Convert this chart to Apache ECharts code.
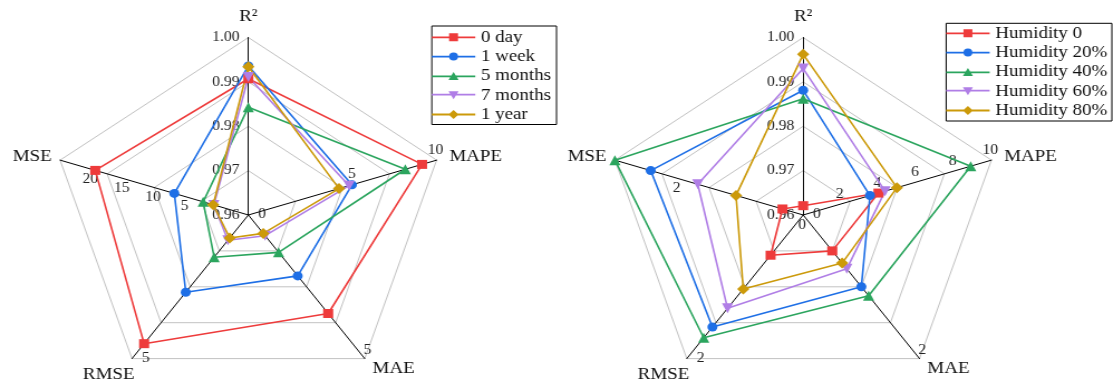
<!DOCTYPE html>
<html><head><meta charset="utf-8">
<script src="https://cdn.jsdelivr.net/npm/echarts@6/dist/echarts.min.js"></script>
<style>
html,body{margin:0;padding:0;background:#fff;overflow:hidden;width:1113px;height:385px;}
#wrap{width:1113px;height:385px;overflow:hidden;position:relative;}
#chart{width:998px;height:385px;transform:scaleX(1.1152);transform-origin:0 0;}
</style></head><body><div id="wrap"><div id="chart"></div></div>
<script>
// Indicators, counter-clockwise from the top
const indicatorNames = ['R²', 'MSE', 'RMSE', 'MAE', 'MAPE'];

// Left radar: aging time
const agingSeries = ['0 day', '1 week', '5 months', '7 months', '1 year'];
const agingR2   = [0.9907, 0.9936, 0.9843, 0.9911, 0.9934];
const agingMSE  = [19.4, 6.8, 2.2, 0.5, 0.6];
const agingRMSE = [4.48, 2.69, 1.47, 0.88, 0.80];
const agingMAE  = [3.43, 2.12, 1.30, 0.72, 0.64];
const agingMAPE = [9.13, 4.94, 8.13, 4.77, 4.17];
const agingMin  = [0.96, -5, 0, 0, -1.25];
const agingMax  = [1.00, 25, 5, 5, 10];
const agingTickLabels = [[0.96, 0.97, 0.98, 0.99, 1.00], [5, 10, 15, 20], [0, 5], [5], [5, 10]];

// Right radar: humidity
const humSeries = ['Humidity 0', 'Humidity 20%', 'Humidity 40%', 'Humidity 60%', 'Humidity 80%'];
const humR2   = [0.9621, 0.9881, 0.9862, 0.9930, 0.9962];
const humMSE  = [0.33, 2.43, 3.0, 1.68, 1.07];
const humRMSE = [0.56, 1.56, 1.71, 1.30, 1.03];
const humMAE  = [0.50, 1.00, 1.125, 0.75, 0.67];
const humMAPE = [4.0, 3.55, 8.9, 4.35, 4.98];
const humMin  = [0.96, 0, 0, 0, 0];
const humMax  = [1.00, 3, 2, 2, 10];
const humTickLabels = [[0.96, 0.97, 0.98, 0.99, 1.00], [0, 2], [0, 2], [2], [2, 4, 6, 8, 10]];

const colors = ['#EE3B3B', '#1E6FE6', '#2BA55E', '#B07EE6', '#CC9A0A'];
const symbols = ['rect', 'circle', 'triangle', 'path://M0,0L10,0L5,9Z', 'diamond'];
const symbolSizes = [9, 9, 10, 10, 11];
const legendLine = 'M0,3.6H39V5.4H0Z ';
const legendIcons = [
  'path://' + legendLine + 'M15.5,0.5H23.5V8.5H15.5Z',
  'path://' + legendLine + 'M19.5,0.5A4,4 0 1 1 19.5,8.5A4,4 0 1 1 19.5,0.5Z',
  'path://' + legendLine + 'M19.5,0L24,8L15,8Z',
  'path://' + legendLine + 'M15,1L24,1L19.5,9Z',
  'path://' + legendLine + 'M19.5,0L24,4.5L19.5,9L15,4.5Z'
];

const FONT = 'Liberation Serif';
const labelLayouts = [
  {align: 'right', verticalAlign: 'middle', margin: 8},   // R²
  {align: 'center', verticalAlign: 'top', margin: 3},     // MSE
  {align: 'left', verticalAlign: 'bottom', margin: 11},   // RMSE
  {align: 'center', verticalAlign: 'bottom', margin: 3},  // MAE
  {align: 'center', verticalAlign: 'bottom', margin: 3}   // MAPE
];

function buildIndicators(mins, maxs, tickLabels) {
  return indicatorNames.map(function (name, i) {
    return {
      name: name, min: mins[i], max: maxs[i],
      axisLabel: Object.assign({
        show: true, color: '#222', fontSize: 14, fontFamily: FONT,
        formatter: function (v) {
          const tol = (maxs[i] - mins[i]) * 1e-4;
          const t = tickLabels[i].find(function (x) { return Math.abs(x - v) < tol; });
          return t === undefined ? '' : (i === 0 ? t.toFixed(2) : String(t));
        }
      }, labelLayouts[i])
    };
  });
}
function ringColors(n) {
  const c = ['#c2c2c2'];
  for (let i = 1; i < n; i++) c.push('rgba(0,0,0,0)');
  return c;
}
const nameRich = {
  rm: {width: 37, align: 'left', padding: [12, 0, 0, 0], fontSize: 17, fontFamily: FONT, color: '#111'},
  ms: {width: 31, align: 'left', fontSize: 17, fontFamily: FONT, color: '#111'}
};
function radarCfg(center, split, mins, maxs, ticks) {
  return {
    center: center, radius: 177.5, startAngle: 90, splitNumber: split, shape: 'polygon',
    indicator: buildIndicators(mins, maxs, ticks),
    axisName: {
      color: '#111', fontSize: 17, fontFamily: FONT, rich: nameRich,
      formatter: function (name) {
        if (name === 'RMSE') return '{rm|RMSE}';
        if (name === 'MSE') return '{ms|MSE}';
        return name;
      }
    },
    nameGap: 12,
    axisLine: {lineStyle: {color: '#000', width: 1}},
    axisTick: {show: false},
    splitLine: {lineStyle: {color: ringColors(split / 4), width: 1}},
    splitArea: {show: false}
  };
}
function buildSeries(names, r2, mse, rmse, mae, mape, radarIndex) {
  return names.map(function (n, i) {
    return {
      type: 'radar', radarIndex: radarIndex, name: n,
      symbol: symbols[i], symbolSize: symbolSizes[i],
      itemStyle: {color: colors[i]},
      lineStyle: {color: colors[i], width: 1.6},
      data: [{value: [r2[i], mse[i], rmse[i], mae[i], mape[i]]}]
    };
  });
}
function legendCfg(names, pos, padding) {
  return Object.assign({
    orient: 'vertical',
    data: names.map(function (n, i) { return {name: n, icon: legendIcons[i]}; }),
    itemWidth: 39, itemHeight: 9, itemGap: 2.3, padding: padding,
    borderColor: '#000', borderWidth: 1, selectedMode: false,
    itemStyle: {borderWidth: 0},
    textStyle: {fontSize: 17, fontFamily: FONT, color: '#111', lineHeight: 17}
  }, pos);
}

const chart = echarts.init(document.getElementById('chart'), null, {renderer: 'canvas'});
chart.setOption({
  animation: false,
  backgroundColor: '#fff',
  radar: [
    radarCfg([222.7, 215], 36, agingMin, agingMax, agingTickLabels),
    radarCfg([720.2, 215], 60, humMin, humMax, humTickLabels)
  ],
  legend: [
    legendCfg(agingSeries, {left: 387.2, top: 26}, [2.8, 5, 1.5, 0]),
    legendCfg(humSeries, {right: 1, top: 23.3}, [1.5, 4, 2, 0])
  ],
  series: buildSeries(agingSeries, agingR2, agingMSE, agingRMSE, agingMAE, agingMAPE, 0)
    .concat(buildSeries(humSeries, humR2, humMSE, humRMSE, humMAE, humMAPE, 1))
});
</script></body></html>
